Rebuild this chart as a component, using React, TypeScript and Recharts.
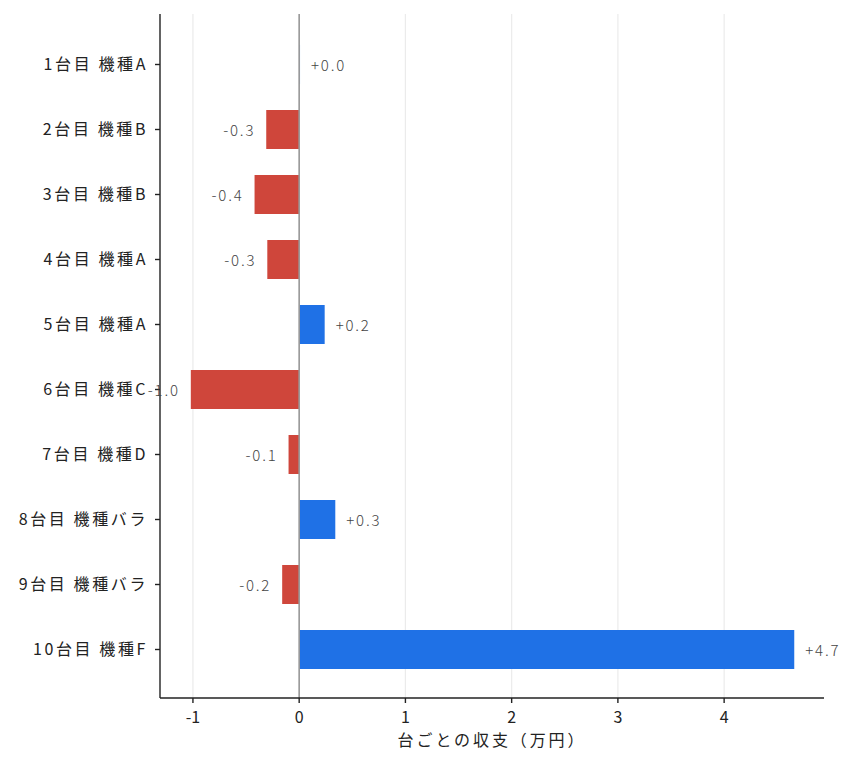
import React from "react";
import {
  BarChart,
  Bar,
  XAxis,
  YAxis,
  CartesianGrid,
  ReferenceLine,
  Cell,
  LabelList,
  Label,
} from "recharts";

const machines = [
  "1台目 機種A",
  "2台目 機種B",
  "3台目 機種B",
  "4台目 機種A",
  "5台目 機種A",
  "6台目 機種C",
  "7台目 機種D",
  "8台目 機種バラ",
  "9台目 機種バラ",
  "10台目 機種F",
];
const profits = [0.008, -0.31, -0.42, -0.3, 0.24, -1.02, -0.1, 0.34, -0.16, 4.66];
const xTicks = [-1, 0, 1, 2, 3, 4];
const xDomain = [-1.31, 4.94];

const FONT = '"Noto Sans CJK JP", "Noto Sans", sans-serif';
const BLUE = "#1f71e6";
const RED = "#cf463b";

const data = machines.map((name, i) => ({ name, profit: profits[i] }));

const fmt = (v: number) => (v >= 0 ? "+" : "") + v.toFixed(1);

function ValueLabel(props: any) {
  const { x, y, width, height, value } = props;
  const v = Number(value);
  const x1 = Number(x);
  const x2 = Number(x) + Number(width);
  const cy = Number(y) + Number(height) / 2;
  const end = v >= 0 ? Math.max(x1, x2) : Math.min(x1, x2);
  return (
    <text
      x={v >= 0 ? end + 11 : end - 11}
      y={cy}
      textAnchor={v >= 0 ? "start" : "end"}
      dominantBaseline="central"
      fill="#444"
      fontSize={15}
      letterSpacing={1.8}
      fontWeight={300}
      fontFamily={FONT}
    >
      {fmt(v)}
    </text>
  );
}

function AxisTitle(props: any) {
  const vb = props.viewBox || {};
  return (
    <text
      x={vb.x + vb.width / 2}
      y={vb.y + 41}
      textAnchor="middle"
      dominantBaseline="central"
      fill="#222"
      fontSize={16}
      letterSpacing={2.9}
      fontFamily={FONT}
    >
      台ごとの収支（万円）
    </text>
  );
}

// grid lines only at the labelled ticks, drawn behind the bars
const gridX = (args: any) => {
  const s = args?.xAxis?.scale;
  if (typeof s === "function") return xTicks.map((t) => s(t));
  if (s && typeof s.map === "function") return xTicks.map((t) => s.map(t));
  const o = args?.offset;
  return xTicks.map(
    (t) => o.left + ((t - xDomain[0]) / (xDomain[1] - xDomain[0])) * o.width
  );
};

export default function App() {
  return (
    <div style={{ position: "absolute", left: 0, top: 0, background: "#fff" }}>
      <BarChart
        width={854}
        height={770}
        data={data}
        layout="vertical"
        margin={{ top: 14, right: 30, bottom: 0, left: 0 }}
        barSize={39}
      >
        <CartesianGrid
          horizontal={false}
          stroke="#ebebeb"
          strokeWidth={1.2}
          verticalCoordinatesGenerator={gridX}
        />
        <XAxis
          type="number"
          domain={xDomain}
          ticks={xTicks}
          allowDataOverflow
          height={72}
          stroke="#222"
          strokeWidth={1.4}
          tickSize={5}
          tickMargin={9}
          tick={{ fill: "#222", fontSize: 16, fontFamily: FONT }}
        >
          <Label content={<AxisTitle />} />
        </XAxis>
        <YAxis
          type="category"
          dataKey="name"
          width={160}
          padding={{ top: 18, bottom: 16 }}
          stroke="#222"
          strokeWidth={1.4}
          tickSize={5}
          tickMargin={7}
          interval={0}
          tick={{ fill: "#222", fontSize: 16, fontFamily: FONT, letterSpacing: 2.6 }}
        />
        <Bar dataKey="profit" isAnimationActive={false}>
          {data.map((d, i) => (
            <Cell key={i} fill={d.profit >= 0 ? BLUE : RED} />
          ))}
          <LabelList dataKey="profit" content={<ValueLabel />} />
        </Bar>
        <ReferenceLine x={0} stroke="#999" strokeWidth={1.6} />
      </BarChart>
    </div>
  );
}
